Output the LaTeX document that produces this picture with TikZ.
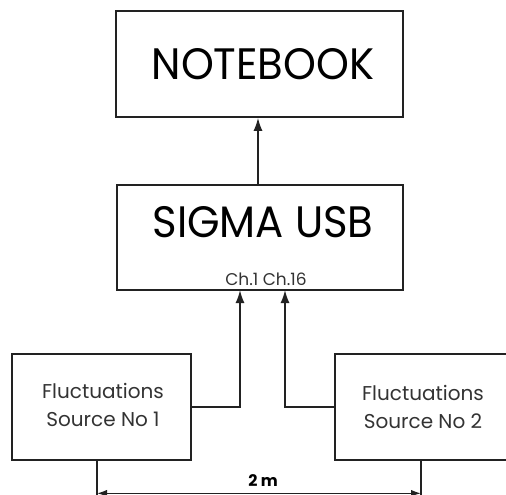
\documentclass[tikz,border=0pt]{standalone}
\usepackage{fontspec}
\setmainfont{Poppins}
\newfontfamily\bigfont[FakeStretch=0.95]{Poppins}
\usetikzlibrary{arrows.meta,calc}
\definecolor{ink}{HTML}{222222}
\definecolor{txt}{HTML}{333333}
\tikzset{
  box/.style={draw=ink, line width=1.6pt, rectangle, inner sep=0pt},
  arr/.style={draw=ink, line width=1.6pt, -{Latex[length=13pt,width=9pt]}},
  dim/.style={draw=ink, line width=1.4pt, {Latex[length=10pt,width=7pt]}-{Latex[length=10pt,width=7pt]}},
  ext/.style={draw=ink, line width=1.4pt},
  big/.style={font=\bigfont\fontsize{44}{44}\selectfont, text=black},
  small/.style={font=\fontsize{17}{17}\selectfont, text=txt},
  src/.style={font=\fontsize{20}{28}\selectfont, text=txt, align=center},
}
\begin{document}
\begin{tikzpicture}[x=1pt,y=-1pt]
\useasboundingbox (0,0) rectangle (506,495);
\node[box, minimum width=287pt, minimum height=106pt] (nb) at (259.5,64) {};
\node[big] (nbt) at (263,64) {NOTEBOOK};
\node[box, minimum width=286pt, minimum height=105pt] (sig) at (260,237.5) {};
\node[big] (sigt) at (263,222.5) {SIGMA USB};
\node[small] (ch) at (266,279) {Ch.1 Ch.16};
\node[box, minimum width=179pt, minimum height=106pt] (s1) at (101.5,407) {};
\node[src] (s1t) at (103,405) {Fluctuations\\Source No 1};
\node[box, minimum width=175pt, minimum height=106pt] (s2) at (422.5,407) {};
\node[src] (s2t) at (423,407) {Fluctuations\\Source No 2};
\coordinate (in1) at (240,290);
\coordinate (in2) at (285,290);
\draw[arr] (sig.north -| 258,0) -- (nb.south -| 258,0);
\draw[arr] (s1.east) -| (in1);
\draw[arr] (s2.west) -| (in2);
\coordinate (d1) at (97,460);
\coordinate (d2) at (421,460);
\coordinate (e1) at (97,497);
\coordinate (e2) at (421,497);
\draw[ext] (d1) -- (e1);
\draw[ext] (d2) -- (e2);
\draw[dim] ($(d1)!0.9!(e1)$) -- ($(d2)!0.9!(e2)$);
\node[font=\fontsize{16}{16}\selectfont\bfseries] (dl) at (263,481) {2 m};
\end{tikzpicture}
\end{document}
